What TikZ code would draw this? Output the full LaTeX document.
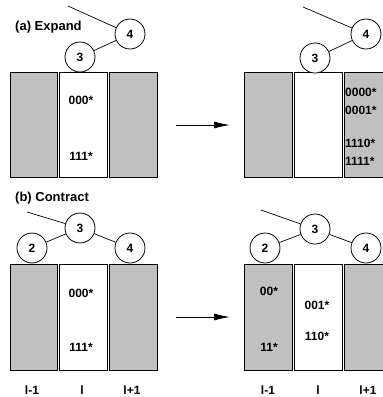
\documentclass[tikz,border=0pt]{standalone}
\usepackage{fontspec}
\setmainfont{Liberation Sans}
\usetikzlibrary{arrows.meta}
\definecolor{cellgray}{RGB}{192,192,192}
\tikzset{
  peer/.style={circle, draw, line width=0.8pt, fill=white, minimum size=30pt, inner sep=0pt, font=\bfseries\fontsize{12}{14}\selectfont},
  cell/.style={draw, line width=0.8pt, fill=cellgray},
  key/.style={inner sep=0pt, font=\bfseries\fontsize{12}{14}\selectfont},
  title/.style={inner sep=0pt, anchor=west, font=\bfseries\fontsize{13}{15}\selectfont},
  link/.style={line width=0.7pt},
  move/.style={line width=0.8pt, -{Latex[length=16pt,width=7pt]}}
}
\begin{document}
\begin{tikzpicture}[x=1pt,y=-1pt]
\useasboundingbox (0,0) rectangle (383,397);
\clip (0,0) rectangle (383,397);

% (a) Expand
\node[title] (ta) at (15,27) {(a) Expand};
\draw[cell] (10,72) rectangle (57,177);
\draw[cell, fill=white] (59,72) rectangle (107,177);
\draw[cell] (109,72) rectangle (157,177);
\node[key] (a1) at (81,100) {000*};
\node[key] (a2) at (81,156) {111*};
\node[peer] (a3) at (80,57) {3};
\node[peer] (a4) at (130,34) {4};
\coordinate (ae) at (68,6);
\draw[link] (ae) -- (a4);
\draw[link] (a3) -- (a4);

\draw[cell] (244,72) rectangle (292,177);
\draw[cell, fill=white] (294,72) rectangle (342,177);
\draw[cell] (344,72) rectangle (392,177);
\node[key, anchor=west] (b1) at (345,92) {0000*};
\node[key, anchor=west] (b2) at (345,110) {0001*};
\node[key, anchor=west] (b3) at (345,143) {1110*};
\node[key, anchor=west] (b4) at (345,161) {1111*};
\node[peer] (b5) at (315,58) {3};
\node[peer] (b6) at (366,34) {4};
\coordinate (be) at (303,7);
\draw[link] (be) -- (b6);
\draw[link] (b5) -- (b6);

\coordinate (m1) at (176,125);
\coordinate (m2) at (230,125);
\draw[move] (m1) -- (m2);

% (b) Contract
\node[title] (tb) at (15,198) {(b) Contract};
\draw[cell] (10,264) rectangle (57,370);
\draw[cell, fill=white] (59,264) rectangle (107,370);
\draw[cell] (109,264) rectangle (157,370);
\node[key] (c1) at (81,293) {000*};
\node[key] (c2) at (81,347) {111*};
\node[peer] (c3) at (80,228) {3};
\node[peer] (c4) at (32,248) {2};
\node[peer] (c5) at (130,248) {4};
\coordinate (ce) at (27,212);
\draw[link] (ce) -- (c3);
\draw[link] (c4) -- (c3);
\draw[link] (c3) -- (c5);

\draw[cell] (244,264) rectangle (292,370);
\draw[cell, fill=white] (294,264) rectangle (342,370);
\draw[cell] (344,264) rectangle (392,370);
\node[key] (d1) at (269,291) {00*};
\node[key] (d2) at (269,347) {11*};
\node[key] (d3) at (317,305) {001*};
\node[key] (d4) at (317,336) {110*};
\node[peer] (d5) at (315,229) {3};
\node[peer] (d6) at (265,248) {2};
\node[peer] (d7) at (366,248) {4};
\coordinate (de) at (261,210);
\draw[link] (de) -- (d5);
\draw[link] (d6) -- (d5);
\draw[link] (d5) -- (d7);

\coordinate (n1) at (176,317);
\coordinate (n2) at (230,317);
\draw[move] (n1) -- (n2);

\node[key] (l1) at (32,390) {l-1};
\node[key] (l2) at (82,390) {l};
\node[key] (l3) at (132,390) {l+1};
\node[key] (r1) at (268,390) {l-1};
\node[key] (r2) at (318,390) {l};
\node[key] (r3) at (368,390) {l+1};
\end{tikzpicture}
\end{document}
